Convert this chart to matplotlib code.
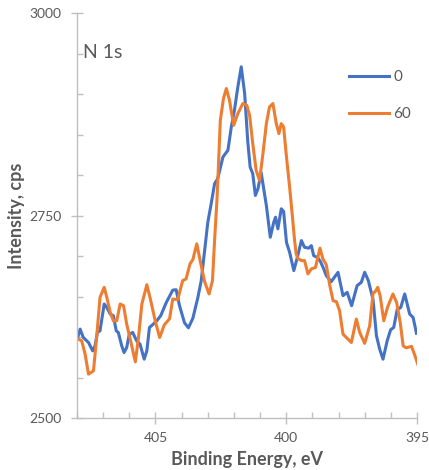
import matplotlib
matplotlib.use("Agg")
import matplotlib.pyplot as plt
from matplotlib.ticker import MultipleLocator

# ---- data ----
series_names = ["0", "60"]

x_0 = [407.99, 407.88, 407.76, 407.56, 407.40, 407.31, 407.22, 407.12, 406.96, 406.86,
       406.73, 406.61, 406.50, 406.42, 406.29, 406.20, 406.10, 406.00, 405.87, 405.72,
       405.59, 405.43, 405.33, 405.23, 405.08, 404.95, 404.80, 404.59, 404.34, 404.21,
       404.08, 403.89, 403.74, 403.57, 403.38, 403.25, 403.12, 403.00, 402.87, 402.74,
       402.62, 402.42, 402.23, 402.10, 401.98, 401.85, 401.72, 401.59, 401.47, 401.38,
       401.28, 401.18, 401.08, 400.96, 400.76, 400.61, 400.48, 400.41, 400.32, 400.19,
       400.10, 399.99, 399.87, 399.71, 399.59, 399.42, 399.30, 399.14, 399.04, 398.95,
       398.80, 398.69, 398.57, 398.47, 398.28, 398.02, 397.83, 397.67, 397.50, 397.29,
       397.13, 397.00, 396.86, 396.68, 396.55, 396.43, 396.30, 396.14, 396.01, 395.89,
       395.76, 395.62, 395.47, 395.28, 395.15, 395.02]
y_0 = [2597.5, 2609.9, 2599.5, 2593.3, 2583.0, 2589.2, 2605.7, 2607.8, 2640.9, 2636.7,
       2628.5, 2626.4, 2607.8, 2605.7, 2589.2, 2580.9, 2587.1, 2603.7, 2605.7, 2595.4,
       2591.3, 2572.7, 2583.0, 2611.9, 2616.1, 2620.2, 2626.4, 2642.5, 2658.0, 2658.6,
       2638.8, 2617.7, 2611.5, 2623.3, 2648.7, 2669.8, 2706.9, 2741.6, 2764.8, 2789.6,
       2795.8, 2822.6, 2830.9, 2859.7, 2880.4, 2909.3, 2934.1, 2901.1, 2841.4, 2810.2,
       2802.0, 2775.1, 2783.4, 2803.6, 2762.7, 2723.4, 2741.6, 2748.2, 2733.8, 2758.6,
       2755.3, 2716.9, 2704.8, 2682.2, 2696.7, 2719.3, 2711.0, 2710.0, 2713.1, 2700.7,
       2698.3, 2693.3, 2684.6, 2676.0, 2668.5, 2680.1, 2651.2, 2655.3, 2638.8, 2663.6,
       2667.7, 2680.1, 2669.8, 2646.2, 2601.6, 2585.5, 2572.7, 2595.4, 2609.0, 2611.9,
       2633.8, 2636.7, 2653.3, 2628.5, 2624.3, 2604.7]

x_60 = [408.02, 407.82, 407.69, 407.56, 407.37, 407.25, 407.12, 406.96, 406.86, 406.73,
        406.61, 406.48, 406.35, 406.22, 406.10, 405.95, 405.77, 405.65, 405.52, 405.33,
        405.18, 405.01, 404.84, 404.66, 404.46, 404.34, 404.15, 403.96, 403.83, 403.68,
        403.57, 403.42, 403.28, 403.12, 402.95, 402.82, 402.74, 402.65, 402.61, 402.52,
        402.40, 402.29, 402.17, 402.01, 401.85, 401.66, 401.51, 401.40, 401.28, 401.15,
        401.02, 400.89, 400.76, 400.64, 400.51, 400.38, 400.28, 400.19, 400.10, 399.99,
        399.87, 399.75, 399.68, 399.62, 399.55, 399.42, 399.30, 399.17, 399.04, 398.88,
        398.71, 398.60, 398.47, 398.34, 398.21, 398.08, 397.96, 397.83, 397.64, 397.51,
        397.32, 397.19, 397.00, 396.81, 396.68, 396.60, 396.50, 396.41, 396.27, 396.12,
        395.92, 395.78, 395.64, 395.53, 395.41, 395.21, 395.09, 394.97]
y_60 = [2598.5, 2595.4, 2578.9, 2554.2, 2558.3, 2599.5, 2649.1, 2661.5, 2649.1, 2630.7,
        2620.2, 2620.2, 2640.9, 2638.8, 2616.1, 2595.4, 2569.4, 2599.1, 2640.9, 2664.8,
        2645.0, 2620.2, 2599.5, 2615.2, 2622.7, 2647.1, 2646.2, 2669.8, 2671.9, 2690.5,
        2695.8, 2715.3, 2692.7, 2668.5, 2653.3, 2669.8, 2719.3, 2768.9, 2797.8, 2868.0,
        2894.9, 2907.3, 2892.8, 2861.8, 2876.3, 2888.7, 2886.6, 2874.2, 2839.2, 2806.1,
        2793.7, 2826.8, 2863.9, 2884.5, 2888.7, 2863.9, 2851.6, 2863.9, 2859.7, 2822.6,
        2785.4, 2744.1, 2719.3, 2702.9, 2697.0, 2694.6, 2694.6, 2678.1, 2684.3, 2686.2,
        2710.0, 2696.7, 2689.6, 2664.8, 2645.0, 2643.7, 2632.6, 2603.7, 2597.5, 2593.3,
        2622.3, 2605.7, 2592.3, 2614.0, 2654.3, 2656.1, 2661.5, 2651.2, 2620.2, 2637.5,
        2653.3, 2642.9, 2617.7, 2589.2, 2586.7, 2588.6, 2578.1, 2566.5]

x_ticks = [405, 400, 395]
y_ticks = [2500, 2750, 3000]
x_label = "Binding Energy, eV"
y_label = "Intensity, cps"
annotation = "N 1s"

# ---- style ----
plt.rcParams['font.family'] = ['Lato', 'DejaVu Sans']
text_col = "#595959"
axis_col = "#BFBFBF"
colors = ["#4472C4", "#ED7D31"]

fig = plt.figure(figsize=(4.29, 4.70), dpi=100)
ax = fig.add_axes([77 / 429, 1 - 418 / 470, 340 / 429, (418 - 13.5) / 470])

ax.plot(x_0, y_0, color=colors[0], lw=2.2, solid_joinstyle='round', label=series_names[0])
ax.plot(x_60, y_60, color=colors[1], lw=2.2, solid_joinstyle='round', label=series_names[1])

ax.set_xlim(408, 395)
ax.set_ylim(2500, 3000)
ax.set_xticks(x_ticks)
ax.set_yticks(y_ticks)
ax.xaxis.set_minor_locator(MultipleLocator(1))
ax.yaxis.set_minor_locator(MultipleLocator(50))

for s in ["top", "right"]:
    ax.spines[s].set_visible(False)
for s in ["left", "bottom"]:
    ax.spines[s].set_color(axis_col)
    ax.spines[s].set_linewidth(1.0)

ax.tick_params(which='major', direction='inout', length=8, width=1, color=axis_col,
               labelcolor=text_col, labelsize=10, pad=4)
ax.tick_params(which='minor', direction='in', length=4, width=1, color=axis_col)
ax.tick_params(axis='y', which='major', pad=7)
ax.tick_params(axis='x', which='major', pad=6)

ax.set_xlabel(x_label, fontsize=13, fontweight='bold', color=text_col, labelpad=5)
ax.set_ylabel(y_label, fontsize=13, fontweight='bold', color=text_col, labelpad=3)

ax.text(0.018, 0.903, annotation, transform=ax.transAxes, fontsize=14, color=text_col,
        ha='left', va='center')

leg = ax.legend(loc='upper left', bbox_to_anchor=(0.782, 0.875), frameon=False,
                fontsize=11, labelcolor=text_col, handlelength=2.6, handletextpad=0.3,
                labelspacing=1.5, borderaxespad=0)

fig.savefig("out.png", dpi=100)
